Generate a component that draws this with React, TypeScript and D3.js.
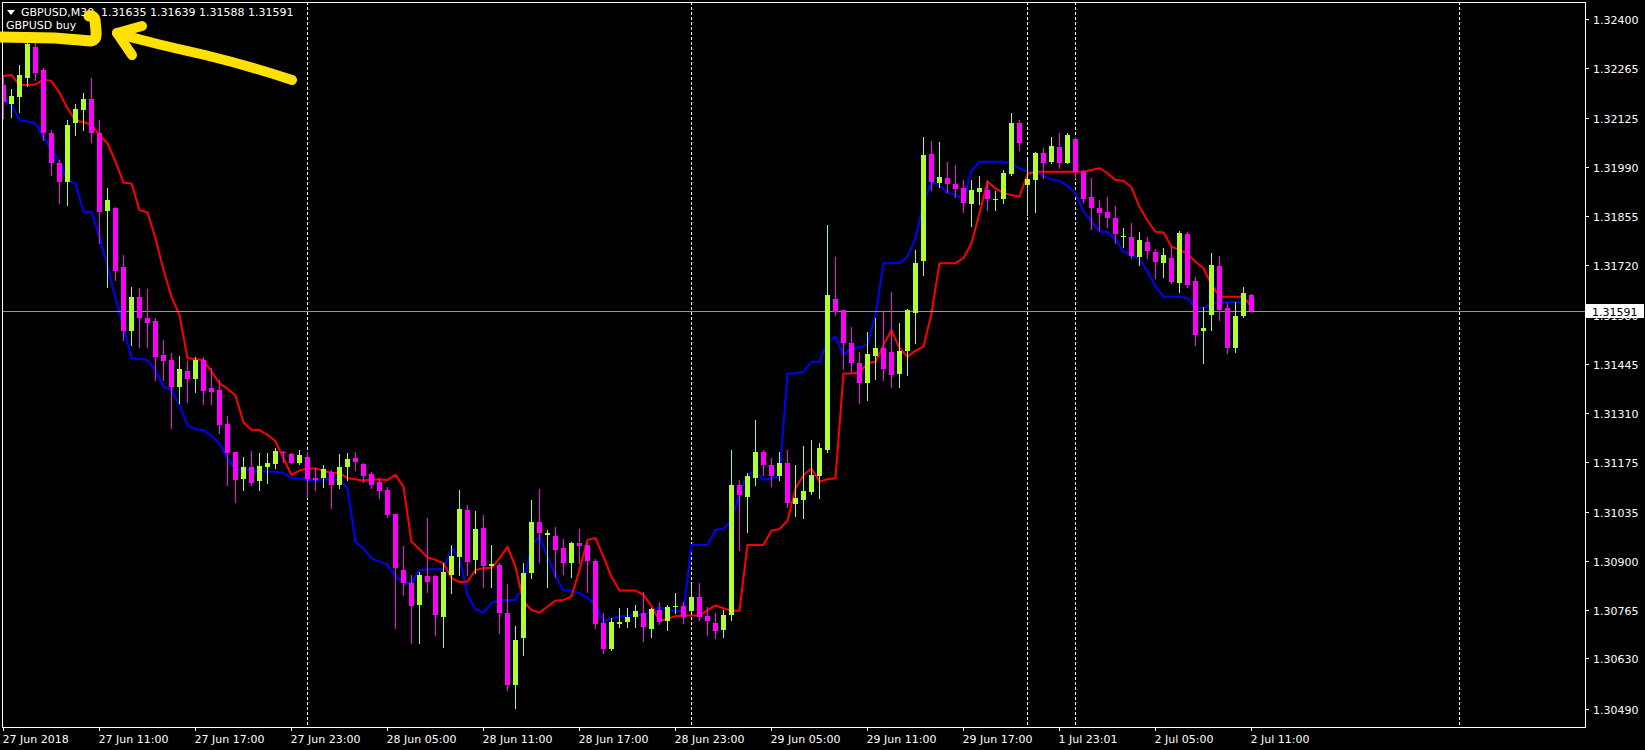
import React from "react";
import * as d3 from "d3";

// ---- data (GBPUSD M30) ----
const OPEN = [
  1.32217,1.32165,1.32185,1.32237,1.32323,1.32259,1.32085,1.32002,1.31950,1.32113,
  1.32148,1.32178,1.32084,1.31869,1.31876,1.31713,1.31535,1.31631,1.31572,1.31565,
  1.31470,1.31456,1.31382,1.31427,1.31403,1.31456,1.31378,1.31373,1.31279,1.31202,
  1.31126,1.31161,1.31120,1.31160,1.31168,1.31202,1.31196,1.31170,1.31188,1.31129,
  1.31130,1.31147,1.31110,1.31159,1.31184,1.31168,1.31141,1.31119,1.31096,1.31030,
  1.30875,1.30838,1.30778,1.30858,1.30858,1.30746,1.30861,1.30910,1.31041,1.30903,
  1.30990,1.30886,1.30889,1.30757,1.30556,1.30686,1.30867,1.31009,1.30973,1.30969,
  1.30936,1.30893,1.30949,1.30944,1.30901,1.30727,1.30655,1.30725,1.30732,1.30745,
  1.30757,1.30711,1.30764,1.30734,1.30772,1.30775,1.30760,1.30799,1.30747,1.30729,
  1.30709,1.30750,1.31110,1.31078,1.31129,1.31202,1.31165,1.31134,1.31172,1.31057,
  1.31069,1.31091,1.31135,1.31207,1.31624,1.31594,1.31504,1.31447,1.31393,1.31467,
  1.31489,1.31479,1.31417,1.31482,1.31587,1.31730,1.32026,1.31945,1.31959,1.31943,
  1.31931,1.31888,1.31922,1.31927,1.31900,1.31901,1.31971,1.32113,1.31941,1.31953,
  1.32028,1.32005,1.32046,1.32002,1.32067,1.31977,1.31906,1.31876,1.31867,1.31848,
  1.31796,1.31797,1.31742,1.31784,1.31756,1.31725,1.31738,1.31670,1.31805,1.31676,
  1.31535,1.31581,1.31716,1.31599,1.31489,1.31578,1.31635,
];
const HIGH = [
  1.32245,1.32205,1.32273,1.32353,1.32336,1.32264,1.32093,1.32010,1.32120,1.32165,
  1.32195,1.32236,1.32120,1.31931,1.31880,1.31747,1.31659,1.31655,1.31652,1.31572,
  1.31512,1.31476,1.31467,1.31452,1.31464,1.31464,1.31433,1.31401,1.31300,1.31202,
  1.31188,1.31205,1.31200,1.31200,1.31212,1.31205,1.31198,1.31207,1.31201,1.31156,
  1.31165,1.31152,1.31196,1.31198,1.31201,1.31170,1.31147,1.31129,1.31105,1.31030,
  1.30940,1.30861,1.30870,1.31018,1.30860,1.30893,1.30944,1.31096,1.31055,1.31039,
  1.31027,1.30944,1.30894,1.30836,1.30720,1.30893,1.31069,1.31098,1.30986,1.30995,
  1.30960,1.30953,1.30987,1.30949,1.30905,1.30755,1.30741,1.30769,1.30769,1.30778,
  1.30815,1.30769,1.30786,1.30778,1.30811,1.30787,1.30836,1.30838,1.30773,1.30755,
  1.30764,1.31207,1.31124,1.31142,1.31290,1.31207,1.31184,1.31202,1.31207,1.31165,
  1.31218,1.31235,1.31226,1.31830,1.31742,1.31594,1.31548,1.31479,1.31534,1.31572,
  1.31593,1.31643,1.31558,1.31596,1.31761,1.32073,1.32063,1.32060,1.32005,1.31996,
  1.31953,1.31954,1.31965,1.31953,1.31925,1.31982,1.32141,1.32120,1.32010,1.32032,
  1.32042,1.32074,1.32084,1.32085,1.32074,1.31982,1.31959,1.31899,1.31908,1.31882,
  1.31821,1.31835,1.31811,1.31797,1.31763,1.31765,1.31770,1.31814,1.31811,1.31687,
  1.31602,1.31751,1.31744,1.31613,1.31617,1.31659,1.31639,
];
const LOW = [
  1.32126,1.32128,1.32143,1.32215,1.32231,1.32065,1.31968,1.31890,1.31885,1.32079,
  1.32093,1.32060,1.31779,1.31657,1.31678,1.31512,1.31498,1.31493,1.31493,1.31401,
  1.31401,1.31267,1.31336,1.31341,1.31368,1.31334,1.31334,1.31253,1.31110,1.31064,
  1.31096,1.31110,1.31096,1.31115,1.31156,1.31175,1.31170,1.31168,1.31077,1.31096,
  1.31104,1.31046,1.31101,1.31124,1.31152,1.31119,1.31101,1.31073,1.31022,1.30714,
  1.30806,1.30672,1.30674,1.30815,1.30695,1.30663,1.30812,1.30861,1.30861,1.30866,
  1.30829,1.30829,1.30700,1.30542,1.30492,1.30640,1.30852,1.30898,1.30829,1.30856,
  1.30864,1.30856,1.30893,1.30815,1.30714,1.30644,1.30653,1.30718,1.30718,1.30718,
  1.30679,1.30688,1.30725,1.30710,1.30755,1.30727,1.30753,1.30736,1.30695,1.30686,
  1.30690,1.30736,1.30930,1.30980,1.31110,1.31138,1.31107,1.31124,1.31050,1.31024,
  1.31018,1.31085,1.31073,1.31201,1.31581,1.31430,1.31424,1.31336,1.31345,1.31403,
  1.31401,1.31382,1.31382,1.31415,1.31502,1.31691,1.31927,1.31936,1.31922,1.31908,
  1.31867,1.31827,1.31888,1.31871,1.31871,1.31890,1.31968,1.32037,1.31857,1.31867,
  1.31959,1.32001,1.31987,1.32001,1.31959,1.31894,1.31818,1.31816,1.31825,1.31781,
  1.31770,1.31738,1.31719,1.31738,1.31682,1.31687,1.31668,1.31643,1.31659,1.31498,
  1.31447,1.31539,1.31567,1.31476,1.31479,1.31576,1.31588,
];
const CLOSE = [
  1.32171,1.32187,1.32244,1.32331,1.32250,1.32084,1.32001,1.31950,1.32107,1.32150,
  1.32179,1.32084,1.31867,1.31899,1.31703,1.31535,1.31631,1.31572,1.31558,1.31464,
  1.31452,1.31381,1.31430,1.31403,1.31456,1.31371,1.31368,1.31276,1.31198,1.31124,
  1.31160,1.31115,1.31163,1.31172,1.31205,1.31198,1.31172,1.31193,1.31126,1.31124,
  1.31154,1.31110,1.31159,1.31181,1.31175,1.31135,1.31110,1.31094,1.31027,1.30880,
  1.30838,1.30775,1.30861,1.30842,1.30750,1.30870,1.30914,1.31043,1.30898,1.30988,
  1.30886,1.30891,1.30755,1.30556,1.30680,1.30866,1.31009,1.30976,1.30978,1.30930,
  1.30893,1.30949,1.30941,1.30901,1.30725,1.30655,1.30732,1.30732,1.30746,1.30760,
  1.30716,1.30767,1.30732,1.30773,1.30776,1.30745,1.30801,1.30745,1.30734,1.30707,
  1.30750,1.31110,1.31082,1.31135,1.31202,1.31165,1.31134,1.31172,1.31059,1.31073,
  1.31094,1.31138,1.31212,1.31636,1.31590,1.31504,1.31447,1.31392,1.31473,1.31489,
  1.31430,1.31415,1.31482,1.31594,1.31724,1.32024,1.31950,1.31962,1.31943,1.31929,
  1.31892,1.31927,1.31931,1.31901,1.31902,1.31973,1.32113,1.32058,1.31956,1.32028,
  1.32002,1.32048,1.32002,1.32079,1.31977,1.31901,1.31876,1.31862,1.31848,1.31805,
  1.31798,1.31744,1.31788,1.31759,1.31728,1.31747,1.31673,1.31807,1.31664,1.31525,
  1.31544,1.31719,1.31594,1.31489,1.31578,1.31642,1.31591,
];
const BLUE_LINE = [
  1.32181,1.32162,1.32120,1.32116,1.32111,1.32073,1.32039,1.32005,1.31953,1.31945,
  1.31867,1.31865,1.31797,1.31714,1.31627,1.31548,1.31461,1.31459,1.31456,1.31428,
  1.31382,1.31373,1.31332,1.31276,1.31264,1.31262,1.31246,1.31224,1.31185,1.31152,
  1.31152,1.31150,1.31148,1.31147,1.31147,1.31143,1.31129,1.31128,1.31124,1.31124,
  1.31125,1.31126,1.31126,1.31101,1.30953,1.30935,1.30907,1.30898,1.30889,1.30856,
  1.30840,1.30838,1.30875,1.30877,1.30877,1.30877,1.30935,1.30910,1.30806,1.30766,
  1.30757,1.30783,1.30792,1.30792,1.30792,1.30833,1.30944,1.30967,1.30912,1.30858,
  1.30818,1.30818,1.30810,1.30797,1.30778,1.30732,1.30741,1.30746,1.30748,1.30750,
  1.30750,1.30761,1.30772,1.30766,1.30761,1.30761,1.30944,1.30944,1.30944,1.30986,
  1.30989,1.31011,1.31087,1.31138,1.31150,1.31124,1.31129,1.31135,1.31419,1.31419,
  1.31424,1.31451,1.31451,1.31507,1.31521,1.31470,1.31489,1.31491,1.31498,1.31581,
  1.31724,1.31724,1.31725,1.31742,1.31793,1.31890,1.31950,1.31941,1.31918,1.31915,
  1.31899,1.31980,1.32005,1.32005,1.32005,1.32005,1.31998,1.31987,1.31977,1.31977,
  1.31965,1.31956,1.31952,1.31938,1.31918,1.31867,1.31839,1.31811,1.31811,1.31790,
  1.31756,1.31747,1.31735,1.31701,1.31659,1.31631,1.31631,1.31631,1.31627,1.31599,
  1.31599,1.31613,1.31616,1.31616,1.31616,1.31616,1.31613,
];
const RED_LINE = [
  1.32242,1.32245,1.32217,1.32217,1.32219,1.32233,1.32228,1.32196,1.32153,1.32119,
  1.32115,1.32107,1.32079,1.32056,1.32005,1.31947,1.31945,1.31871,1.31865,1.31793,
  1.31705,1.31631,1.31581,1.31461,1.31458,1.31456,1.31424,1.31392,1.31376,1.31358,
  1.31283,1.31263,1.31262,1.31249,1.31231,1.31184,1.31138,1.31150,1.31156,1.31156,
  1.31149,1.31144,1.31143,1.31129,1.31126,1.31122,1.31126,1.31125,1.31124,1.31138,
  1.31105,1.30953,1.30932,1.30909,1.30903,1.30893,1.30852,1.30841,1.30843,1.30875,
  1.30880,1.30880,1.30907,1.30939,1.30884,1.30787,1.30764,1.30757,1.30773,1.30790,
  1.30792,1.30801,1.30875,1.30958,1.30963,1.30912,1.30856,1.30818,1.30818,1.30818,
  1.30806,1.30775,1.30734,1.30740,1.30747,1.30749,1.30749,1.30749,1.30764,1.30777,
  1.30769,1.30762,1.30762,1.30944,1.30944,1.30944,1.30984,1.30988,1.31011,1.31101,
  1.31138,1.31156,1.31119,1.31126,1.31129,1.31419,1.31419,1.31421,1.31447,1.31451,
  1.31498,1.31539,1.31489,1.31465,1.31482,1.31493,1.31585,1.31724,1.31724,1.31724,
  1.31738,1.31779,1.31862,1.31950,1.31931,1.31918,1.31913,1.31908,1.31971,1.31977,
  1.31977,1.31977,1.31977,1.31977,1.31977,1.31977,1.31982,1.31987,1.31973,1.31954,
  1.31952,1.31934,1.31880,1.31842,1.31811,1.31809,1.31770,1.31761,1.31750,1.31728,
  1.31710,1.31664,1.31631,1.31631,1.31631,1.31631,1.31604,
];
const PRICE_TICKS = [1.324, 1.32265, 1.32125, 1.3199, 1.31855, 1.3172, 1.3158, 1.31445, 1.3131, 1.31175, 1.31035, 1.309, 1.30765, 1.3063, 1.3049];
const TIME_LABELS = ["27 Jun 2018", "27 Jun 11:00", "27 Jun 17:00", "27 Jun 23:00", "28 Jun 05:00", "28 Jun 11:00", "28 Jun 17:00", "28 Jun 23:00", "29 Jun 05:00", "29 Jun 11:00", "29 Jun 17:00", "1 Jul 23:01", "2 Jul 05:00", "2 Jul 11:00"];
const TIME_LABEL_BARS = [0, 12, 24, 36, 48, 60, 72, 84, 96, 108, 120, 132, 144, 156];
const DAY_SEPARATOR_BARS = [38, 86, 128, 134, 182];
const BID = 1.31591;
const HEADER_SYMBOL = "GBPUSD,M30";
const HEADER_OHLC = "1.31635 1.31639 1.31588 1.31591";
const INDICATOR_NAME = "GBPUSD buy";

const W = 1645;
const H = 750;
const FONT = "'DejaVu Sans', Tahoma, sans-serif";
const BULL = "#adff2f";
const BEAR = "#ff00ff";

export default function App() {
  const left = 2, right = 1585, top = 2, bottom = 727;
  const y = d3.scaleLinear().domain([1.3049, 1.324]).range([709, 19]);
  const x = d3.scaleLinear().domain([0, 1]).range([3.5, 11.5]);
  const idx = d3.range(OPEN.length);

  const lineGen = d3
    .line<number>()
    .x((_, i) => x(i))
    .y((d) => y(d));

  const bidY = Math.round(y(BID)) + 0.5;

  return (
    <svg
      width={W}
      height={H}
      style={{ position: "fixed", left: 0, top: 0, display: "block" }}
      fontFamily={FONT}
    >
      <defs>
        <clipPath id="plot">
          <rect x={left + 1} y={top + 1} width={right - left - 1} height={bottom - top - 1} />
        </clipPath>
      </defs>
      <rect x={0} y={0} width={W} height={H} fill="#000" />

      <g clipPath="url(#plot)">
        {/* day separators */}
        {DAY_SEPARATOR_BARS.map((b) => (
          <line
            key={"sep" + b}
            x1={Math.floor(x(b)) + 0.5}
            x2={Math.floor(x(b)) + 0.5}
            y1={top}
            y2={bottom}
            stroke="#fff"
            strokeWidth={1}
            strokeDasharray="3,2"
            shapeRendering="crispEdges"
          />
        ))}
        {/* indicator lines */}
        <path d={lineGen(BLUE_LINE) || ""} fill="none" stroke="#0000ff" strokeWidth={2} strokeLinejoin="round" />
        <path d={lineGen(RED_LINE) || ""} fill="none" stroke="#ff0000" strokeWidth={2} strokeLinejoin="round" />
        {/* bid line */}
        <line x1={left} x2={right} y1={bidY} y2={bidY} stroke="#8896a8" strokeWidth={1} shapeRendering="crispEdges" />
        {/* candles */}
        {idx.map((i) => {
          const o = OPEN[i], c = CLOSE[i], h = HIGH[i], l = LOW[i];
          const col = c >= o ? BULL : BEAR;
          const cx = x(i);
          const yTop = Math.round(y(Math.max(o, c)));
          const yBot = Math.round(y(Math.min(o, c)));
          return (
            <g key={"c" + i} shapeRendering="crispEdges">
              <line x1={cx} x2={cx} y1={Math.round(y(h))} y2={Math.round(y(l)) + 1} stroke={col} strokeWidth={1} />
              <rect x={cx - 2.5} y={yTop} width={5} height={Math.max(1, yBot - yTop)} fill={col} />
            </g>
          );
        })}
      </g>

      {/* frame */}
      <rect
        x={left + 0.5}
        y={top + 0.5}
        width={right - left}
        height={bottom - top}
        fill="none"
        stroke="#fff"
        strokeWidth={1}
        shapeRendering="crispEdges"
      />

      {/* price axis */}
      {PRICE_TICKS.map((p) => {
        const ty = Math.round(y(p)) + 0.5;
        return (
          <g key={"pt" + p}>
            <line x1={right} x2={right + 4} y1={ty} y2={ty} stroke="#fff" shapeRendering="crispEdges" />
            <text x={right + 8} y={ty + 4} fill="#fff" fontSize={11}>
              {p.toFixed(5)}
            </text>
          </g>
        );
      })}
      {/* bid label */}
      <rect x={right + 1} y={bidY - 7.5} width={58} height={14} fill="#fff" />
      <text x={right + 7} y={bidY + 4} fill="#000" fontSize={11}>
        {BID.toFixed(5)}
      </text>

      {/* time axis */}
      {TIME_LABEL_BARS.map((b, k) => {
        const tx = Math.floor(x(b)) + 0.5;
        return (
          <g key={"tl" + b}>
            <line x1={tx} x2={tx} y1={bottom} y2={bottom + 4} stroke="#fff" shapeRendering="crispEdges" />
            <text x={tx - 1} y={743} fill="#fff" fontSize={11}>
              {TIME_LABELS[k]}
            </text>
          </g>
        );
      })}

      {/* header */}
      <path d="M7,10 L15,10 L11,15 Z" fill="#fff" />
      <text x={21} y={16} fill="#fff" fontSize={11}>
        {HEADER_SYMBOL}
      </text>
      <text x={101} y={16} fill="#fff" fontSize={11}>
        {HEADER_OHLC}
      </text>
      <text x={6} y={29} fill="#fff" fontSize={11}>
        {INDICATOR_NAME}
      </text>

      {/* hand-drawn yellow annotation */}
      <g fill="none" stroke="#ffe100" strokeLinecap="round" strokeLinejoin="round">
        <path d="M-6,37 L55,38 Q80,40 91,41 Q97,40 96,31 L95,20 Q94,15 89,16" strokeWidth={11} />
        <path d="M292,80 Q250,66 205,55 Q165,46 142,40 Q126,36 117,33" strokeWidth={10} />
        <path d="M142,26 L117,33 L132,55" strokeWidth={10} />
      </g>
    </svg>
  );
}
